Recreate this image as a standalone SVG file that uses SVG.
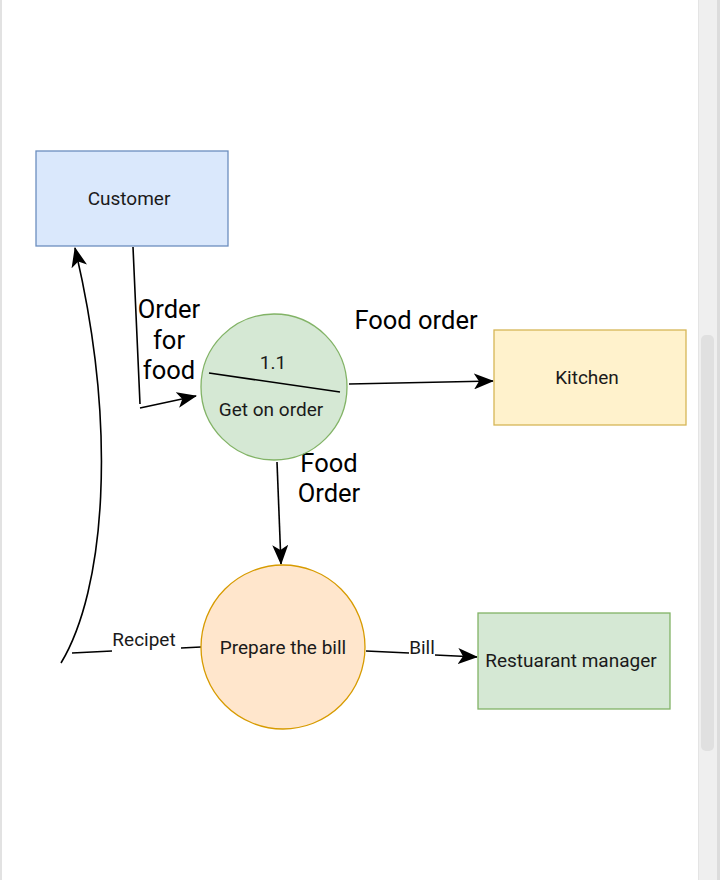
<svg xmlns="http://www.w3.org/2000/svg" width="720" height="880" viewBox="0 0 720 880">
<defs>
<marker id="arr" markerWidth="20" markerHeight="16" refX="19" refY="8" orient="auto" markerUnits="userSpaceOnUse">
<path d="M0,0 L20,8 L0,16 L5,8 Z" fill="#000"/>
</marker>
<style>
text{font-family:Roboto,"Liberation Sans",sans-serif;fill:#1a1a1a;text-anchor:middle}
.s{font-size:19px}
.l{font-size:25.5px;fill:#000}
.c{fill:none;stroke:#000;stroke-width:1.6}
</style>
</defs>
<rect x="0" y="0" width="720" height="880" fill="#fff"/>
<rect x="0" y="0" width="2" height="880" fill="#e2e2e2"/>
<g id="scrollbar">
<rect x="698" y="0" width="22" height="880" fill="#efefef"/>
<rect x="698" y="0" width="1" height="880" fill="#e4e4e4"/>
<rect x="717" y="0" width="3" height="880" fill="#dcdcdc"/>
<rect x="701" y="335" width="13" height="416" rx="5" fill="#e0e0e0"/>
</g>
<g id="connectors">
<path class="c" d="M133,247 L140,404 M140,408 L196,396" marker-end="url(#arr)"/>
<path class="c" d="M349,384 L493,381" marker-end="url(#arr)"/>
<path class="c" d="M277,462 L281,564" marker-end="url(#arr)"/>
<path class="c" d="M201,647 L181,648 M112,651 L72,653"/>
<path class="c" d="M61,663 C105,590 118,430 75,248" marker-end="url(#arr)"/>
<path class="c" d="M366,651 L409,653 M435,655 L477,657" marker-end="url(#arr)"/>
<text class="l" x="169" y="318">Order</text>
<text class="l" x="169" y="349">for</text>
<text class="l" x="169" y="379">food</text>
<text class="l" x="416" y="329">Food order</text>
<text class="l" x="329" y="472">Food</text>
<text class="l" x="329" y="502">Order</text>
<text class="s" x="144" y="646">Recipet</text>
<text class="s" x="422" y="654">Bill</text>
</g>
<g id="customer">
<rect x="36" y="151" width="192" height="95" fill="#dae8fc" stroke="#6c8ebf" stroke-width="1.3"/>
<text class="s" x="129" y="205">Customer</text>
</g>
<g id="get-order">
<circle cx="274" cy="387" r="73" fill="#d5e8d4" stroke="#82b366" stroke-width="1.3"/>
<line x1="209" y1="373" x2="340" y2="392" stroke="#000" stroke-width="1.6"/>
<text class="s" x="273" y="369">1.1</text>
<text class="s" x="271" y="416">Get on order</text>
</g>
<g id="kitchen">
<rect x="494" y="330" width="192" height="95" fill="#fff2cc" stroke="#d6b656" stroke-width="1.3"/>
<text class="s" x="587" y="384">Kitchen</text>
</g>
<g id="prepare-bill">
<circle cx="283" cy="647" r="82" fill="#ffe6cc" stroke="#d79b00" stroke-width="1.3"/>
<text class="s" x="283" y="654">Prepare the bill</text>
</g>
<g id="manager">
<rect x="478" y="613" width="192" height="96" fill="#d5e8d4" stroke="#82b366" stroke-width="1.3"/>
<text class="s" x="571" y="667">Restuarant manager</text>
</g>
</svg>
